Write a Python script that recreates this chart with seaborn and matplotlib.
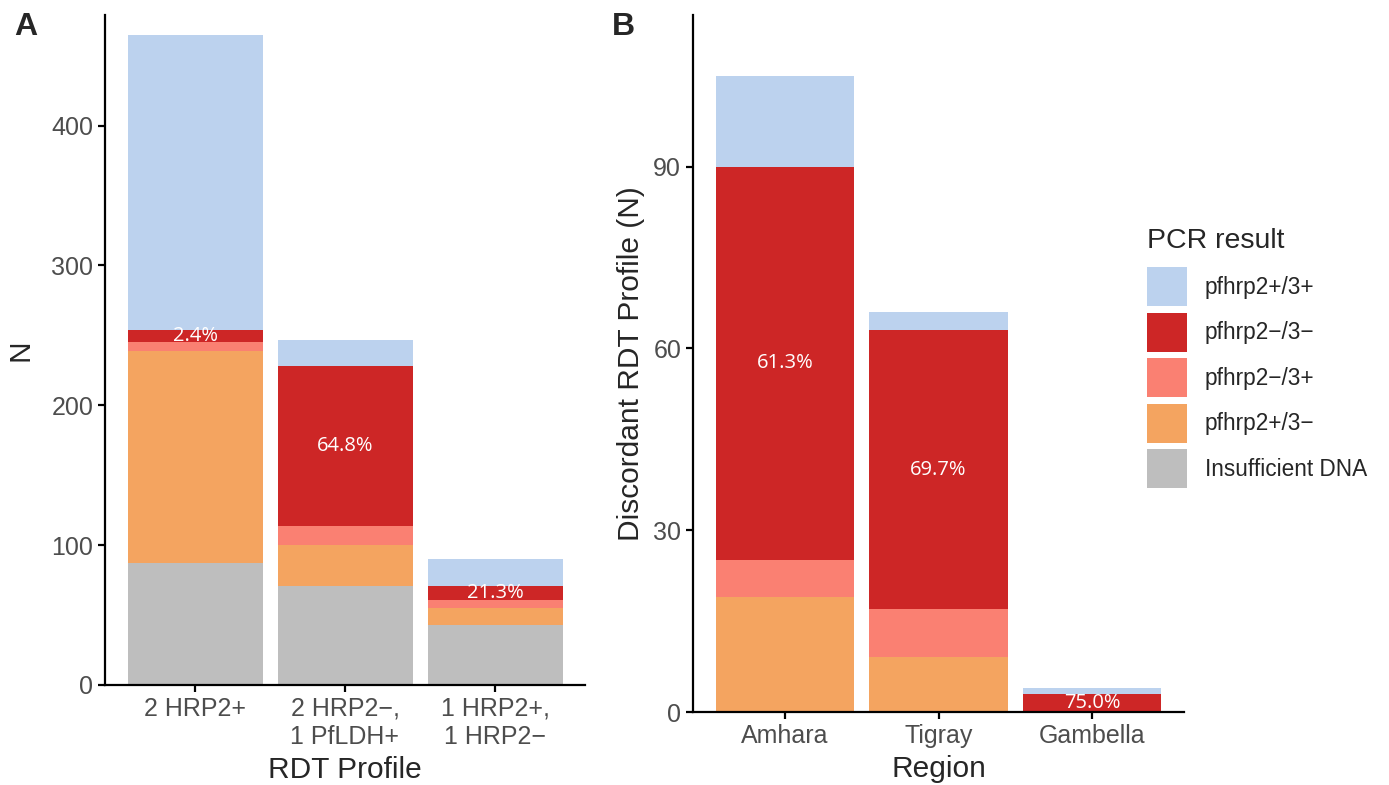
import numpy as np
import pandas as pd
import seaborn as sns
import matplotlib.pyplot as plt
from matplotlib.patches import Patch

# PCR result categories, top of the stack first
results = ["pfhrp2+/3+", "pfhrp2−/3−", "pfhrp2−/3+", "pfhrp2+/3−", "Insufficient DNA"]
result_colors = ["#BCD2EE", "#CD2626", "#FA8072", "#F4A460", "#BEBEBE"]

# panel A: counts per RDT profile
profiles = ["2 HRP2+", "2 HRP2−,\n1 PfLDH+", "1 HRP2+,\n1 HRP2−"]
a_pos_pos = [211, 19, 19]
a_neg_neg = [9, 114, 10]
a_neg_pos = [6, 14, 6]
a_pos_neg = [152, 29, 12]
a_insuff = [87, 71, 43]
a_pct = ["2.4%", "64.8%", "21.3%"]

# panel B: discordant profiles per region
regions = ["Amhara", "Tigray", "Gambella"]
b_pos_pos = [15, 3, 1]
b_neg_neg = [65, 46, 3]
b_neg_pos = [6, 8, 0]
b_pos_neg = [19, 9, 0]
b_insuff = [0, 0, 0]
b_pct = ["61.3%", "69.7%", "75.0%"]


def long_table(cats, series):
    rows = []
    for res, vals in zip(results, series):
        for c, v in zip(cats, vals):
            rows.append({"cat": c, "result": res, "n": v})
    return pd.DataFrame(rows)


def stacked(ax, cats, series, pct):
    df = long_table(cats, series)
    sns.histplot(data=df, x="cat", hue="result", weights="n", hue_order=results,
                 palette=result_colors, multiple="stack", discrete=True, shrink=0.9,
                 alpha=1, edgecolor="none", linewidth=0, legend=False, ax=ax)
    # label sits in the middle of the pfhrp2-/3- segment
    below = np.array(series[2]) + np.array(series[3]) + np.array(series[4])
    mid = below + np.array(series[1]) / 2
    for i, txt in enumerate(pct):
        ax.text(i, mid[i], txt, color="white", ha="center", va="center",
                fontsize=14.5, family=["Open Sans", "DejaVu Sans"])
    ax.set_xlim(-0.6, len(cats) - 0.4)
    for s in ["top", "right"]:
        ax.spines[s].set_visible(False)
    for s in ["left", "bottom"]:
        ax.spines[s].set_linewidth(1.6)
        ax.spines[s].set_color("black")
    ax.tick_params(axis="both", length=5, width=1.6, color="black",
                   labelsize=18, labelcolor="#4D4D4D")


sns.set_style("ticks")
plt.rcParams["font.family"] = ["Liberation Sans", "DejaVu Sans"]

fig = plt.figure(figsize=(13.89, 7.85), dpi=100)
axA = fig.add_axes([105 / 1389, 100 / 785, 480 / 1389, 670 / 785])
axB = fig.add_axes([693 / 1389, 73 / 785, 491 / 1389, 697 / 785])

stacked(axA, profiles, [a_pos_pos, a_neg_neg, a_neg_pos, a_pos_neg, a_insuff], a_pct)
axA.set_ylim(0, 479)
axA.set_yticks([0, 100, 200, 300, 400])
axA.set_xlabel("RDT Profile", fontsize=21.5, labelpad=5)
axA.set_ylabel("N", fontsize=21.5, labelpad=12)

stacked(axB, regions, [b_pos_pos, b_neg_neg, b_neg_pos, b_pos_neg, b_insuff], b_pct)
axB.set_ylim(0, 115)
axB.set_yticks([0, 30, 60, 90])
axB.set_xlabel("Region", fontsize=21.5, labelpad=5)
axB.set_ylabel("Discordant RDT Profile (N)", fontsize=21.5, labelpad=6)

fig.text(14 / 1389, 1 - 12 / 785, "A", fontsize=23, fontweight="bold", va="top")
fig.text(612 / 1389, 1 - 12 / 785, "B", fontsize=23, fontweight="bold", va="top")

# legend title drawn separately to get the ggplot-like gap above the keys
fig.text(1147 / 1389, 1 - 241 / 785, "PCR result", fontsize=20.5, va="center")
handles = [Patch(facecolor=c, edgecolor="none") for c in result_colors]
leg = fig.legend(handles, results, loc="upper left",
                 bbox_to_anchor=(1147 / 1389, 1 - 267 / 785),
                 frameon=False, fontsize=16.3,
                 handlelength=1.75, handleheight=2.3, labelspacing=0.27,
                 handletextpad=0.8, borderpad=0, borderaxespad=0)

fig.savefig("out.png", dpi=100)
